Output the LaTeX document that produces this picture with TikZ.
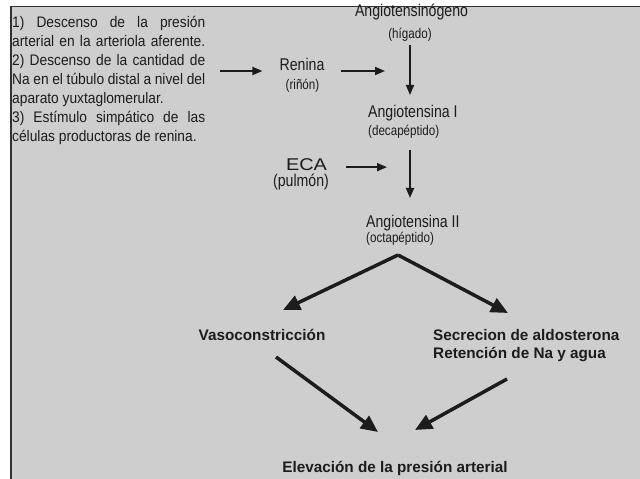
\documentclass[tikz,border=0pt]{standalone}
\usepackage{fontspec}
\setmainfont{Liberation Sans}
\newfontfamily\condfont[FakeStretch=0.83]{Liberation Sans}
\newfontfamily\leftfont[FakeStretch=0.9]{Liberation Sans}
\newfontfamily\widefont[FakeStretch=1.17]{Liberation Sans}
\usetikzlibrary{arrows.meta}
\definecolor{bggray}{RGB}{206,206,206}
\definecolor{ink}{RGB}{28,28,28}
\definecolor{bordercol}{RGB}{50,50,50}
\tikzset{
  lbl/.style={inner sep=0pt, text=ink},
  bigtxt/.style={lbl, font=\condfont\fontsize{17bp}{20bp}\selectfont},
  smalltxt/.style={lbl, font=\condfont\fontsize{14bp}{17bp}\selectfont},
  boldtxt/.style={lbl, font=\bfseries\fontsize{15.3bp}{18.5bp}\selectfont},
  thinarr/.style={draw=ink, line width=1.8bp, -{Triangle[length=10bp,width=8bp]}},
  bigarr/.style={draw=ink, line width=3.5bp, -{Triangle[length=17bp,width=15bp]}}
}
\begin{document}
\begin{tikzpicture}[x=1bp,y=-1bp]
\useasboundingbox (0,0) rectangle (640,479);
\fill[white] (0,0) rectangle (640,479);
\fill[bggray] (11,7) rectangle (640,479);
\draw[bordercol, line width=1.6bp] (10.8,479) -- (10.8,6.6) -- (640,6.6);

% left text block (base anchor = baseline of last line)
\node[lbl, anchor=base west, align=left, font=\leftfont\fontsize{15.3bp}{19bp}\selectfont] (txt) at (12,141.5)
 {\makebox[193bp][s]{1) Descenso de la presión}\\
  \makebox[193bp][s]{arterial en la arteriola aferente.}\\
  \makebox[193bp][s]{2) Descenso de la cantidad de}\\
  \makebox[193bp][s]{Na en el túbulo distal a nivel del}\\
  aparato yuxtaglomerular.\\
  \makebox[193bp][s]{3) Estímulo simpático de las}\\
  células productoras de renina.};

% labels
\node[bigtxt, anchor=base] (angi) at (411.5,17) {Angiotensinógeno};
\node[smalltxt, anchor=base] (hig) at (410,38.5) {(hígado)};
\node[bigtxt, anchor=base] (ren) at (302,71) {Renina};
\node[smalltxt, anchor=base] (rin) at (302.5,90) {(riñón)};
\node[bigtxt, anchor=base west] (ang1) at (368,118) {Angiotensina I};
\node[smalltxt, anchor=base west] (dec) at (368,136) {(decapéptido)};
\node[lbl, anchor=base, font=\widefont\fontsize{17bp}{20bp}\selectfont] (eca) at (306.5,170.5) {ECA};
\node[bigtxt, anchor=base] (pul) at (301,186.5) {(pulmón)};
\node[bigtxt, anchor=base west] (ang2) at (366,228) {Angiotensina II};
\node[smalltxt, anchor=base west] (oct) at (366,243) {(octapéptido)};
\node[boldtxt, anchor=base] (vaso) at (262,340) {Vasoconstricción};
\node[boldtxt, anchor=base west, align=left] (sec) at (433,358.5) {Secrecion de aldosterona\\Retención de Na y agua};
\node[boldtxt, anchor=base] (elev) at (395,472.5) {Elevación de la presión arterial};

% thin arrows
\coordinate (ecaR) at ([yshift=-2.5bp]eca.east);
\draw[thinarr, shorten <=15bp, shorten >=17bp] (txt.east |- ren.base) -- (ren.base west);
\draw[thinarr, shorten <=16bp, shorten >=25bp] (ren.base east) -- (hig.south |- ren.base);
\draw[thinarr, shorten <=3.5bp, shorten >=10.5bp] (hig.south) -- (hig.south |- ang1.north);
\draw[thinarr, shorten <=19bp, shorten >=23bp] (ecaR) -- (hig.south |- ecaR);
\draw[thinarr, shorten <=11bp, shorten >=17.5bp] (hig.south |- dec.south) -- (hig.south |- ang2.north);

% bold arrows
\coordinate (apex) at (398,255);
\coordinate (tipL) at (283,310);
\coordinate (tipR) at (508,313);
\coordinate (vasoOut) at (276,357);
\coordinate (secOut) at (507,379);
\coordinate (elevInL) at (378,432);
\coordinate (elevInR) at (415,430);
\draw[bigarr] (apex) -- (tipL);
\draw[bigarr] (apex) -- (tipR);
\draw[bigarr] (vasoOut) -- (elevInL);
\draw[bigarr] (secOut) -- (elevInR);
\end{tikzpicture}
\end{document}
